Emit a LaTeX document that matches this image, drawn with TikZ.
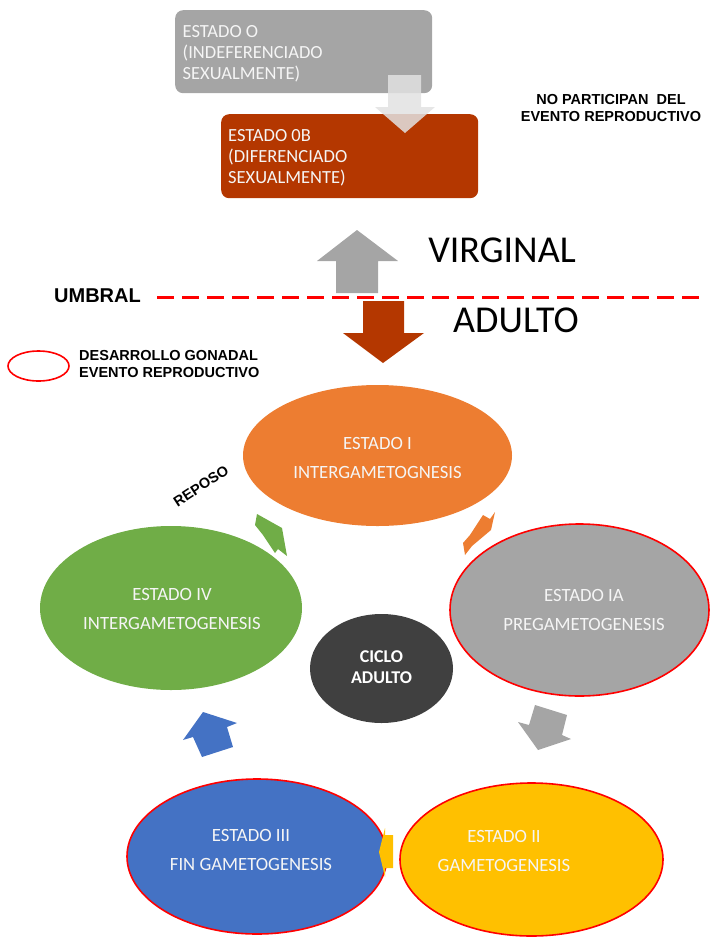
\documentclass[tikz,border=0pt]{standalone}
\usepackage{fontspec}
\setmainfont{Carlito}
\newfontfamily\arialf{Liberation Sans}
\usetikzlibrary{shapes.geometric}
\definecolor{rust}{RGB}{180,55,0}
\definecolor{midgray}{RGB}{165,165,165}
\definecolor{orng}{RGB}{237,125,49}
\definecolor{grn}{RGB}{112,173,71}
\definecolor{blu}{RGB}{68,114,196}
\definecolor{ylw}{RGB}{255,192,0}
\definecolor{darkc}{RGB}{64,64,64}
\definecolor{lightarr}{RGB}{226,226,226}
\definecolor{offwhite}{RGB}{245,245,245}
\begin{document}
\begin{tikzpicture}[x=1pt,y=-1pt,
  box/.style={rounded corners=8pt, draw=none, inner sep=0, anchor=north west},
  boxtext/.style={anchor=north west, inner sep=0, text=offwhite, align=left, font=\fontsize{18.5}{21}\selectfont},
  stage/.style={ellipse, draw=none, inner sep=0},
  gonad/.style={draw=red, line width=1.6pt},
  lbl/.style={text=offwhite, align=center, inner sep=0, font=\fontsize{18.7}{29}\selectfont},
  arialb/.style={font=\arialf\bfseries\fontsize{14.5}{17}\selectfont, inner sep=0},
  big/.style={font=\fontsize{38}{38}\selectfont, inner sep=0}
]
\useasboundingbox (0,0) rectangle (710,938);

% top boxes
\node[box, fill=midgray, minimum width=257pt, minimum height=83pt] (b0) at (175,10) {};
\node[boxtext] (t0) at (182.5,25) {ESTADO O\\(INDEFERENCIADO\\SEXUALMENTE)};
\node[box, fill=rust, minimum width=257pt, minimum height=84pt] (b1) at (221,114) {};
\node[boxtext] (t1) at (228,129.5) {ESTADO 0B\\(DIFERENCIADO\\SEXUALMENTE)};
\fill[lightarr, opacity=0.85] (388,75) -- (421,75) -- (421,107) -- (435,107) -- (405,133) -- (375,107) -- (388,107) -- cycle;

\node[arialb, align=center] (np) at (611,108) {NO PARTICIPAN\ \ DEL\\EVENTO REPRODUCTIVO};

% virginal / adulto
\fill[midgray] (357,230) -- (398,261) -- (378,261) -- (378,293) -- (336,293) -- (336,261) -- (317,261) -- cycle;
\node[big] (vir) at (502,250) {VIRGINAL};
\coordinate (u1) at (157,297);
\coordinate (u2) at (700,297);
\draw[red, line width=3pt, dash pattern=on 17pt off 8pt] (u1) -- (u2);
\node[font=\arialf\bfseries\fontsize{20}{20}\selectfont, inner sep=0, anchor=west] (umb) at (54,296) {UMBRAL};
\fill[rust] (363,301) -- (404,301) -- (404,333) -- (424,333) -- (383,363) -- (343,333) -- (363,333) -- cycle;
\node[big] (adu) at (516,320) {ADULTO};

% legend
\node[stage, gonad, minimum width=61pt, minimum height=30pt] (leg) at (38.5,366) {};
\node[arialb, align=left, anchor=west, font=\arialf\bfseries\fontsize{14.5}{16.5}\selectfont] (legt) at (79,364) {DESARROLLO GONADAL\\EVENTO REPRODUCTIVO};

% cycle ellipses
\node[stage, fill=orng, minimum width=269pt, minimum height=141pt] (e1) at (377.5,455.5) {};
\node[stage, fill=midgray, gonad, minimum width=259pt, minimum height=172pt] (e1a) at (579.5,610) {};
\node[stage, fill=grn, minimum width=262pt, minimum height=164pt] (e4) at (171,608) {};
\node[stage, fill=ylw, gonad, minimum width=263pt, minimum height=153pt] (e2) at (531.5,859.5) {};
\node[stage, fill=blu, gonad, minimum width=260pt, minimum height=155pt] (e3) at (257,856.5) {};

\node[lbl] (l1) at (377.5,458) {ESTADO I\\INTERGAMETOGNESIS};
\node[lbl] (l1a) at (584,610) {ESTADO IA\\PREGAMETOGENESIS};
\node[lbl] (l4) at (172,608.5) {ESTADO IV\\INTERGAMETOGENESIS};
\node[lbl] (l2) at (504,850.5) {ESTADO II\\GAMETOGENESIS};
\node[lbl] (l3) at (251,849.5) {ESTADO III\\FIN GAMETOGENESIS};

% cycle arrows
\fill[orng] (483,515) -- (490,519) -- (495,512) -- (491,530) -- (472,546) -- (465,555) -- (463,543) -- (470,535) -- cycle;
\fill[midgray] (535,705) -- (567,715) -- (562,735) -- (571,739) -- (538,750) -- (518,722) -- (529,725) -- cycle;
\fill[ylw] (379,852) -- (385,828) -- (385,835) -- (393,835) -- (393,868) -- (385,868) -- (385,877) -- cycle;
\fill[blu] (203,712) -- (237,723) -- (227,727) -- (233,747) -- (202,757) -- (193,737) -- (183,740) -- cycle;
\fill[grn] (257,514) -- (282,528) -- (287,556) -- (278,549) -- (275,553) -- (263,535) -- (255,525) -- cycle;

\node[font=\arialf\bfseries\fontsize{14.5}{14.5}\selectfont, inner sep=0, rotate=33] (rep) at (201,486) {REPOSO};

% center
\node[stage, fill=darkc, minimum width=143pt, minimum height=109pt] (ec) at (381.5,668.5) {};
\node[text=white, align=center, inner sep=0, font=\bfseries\fontsize{18}{21}\selectfont] (lc) at (381.5,667) {CICLO\\ADULTO};
\end{tikzpicture}
\end{document}
